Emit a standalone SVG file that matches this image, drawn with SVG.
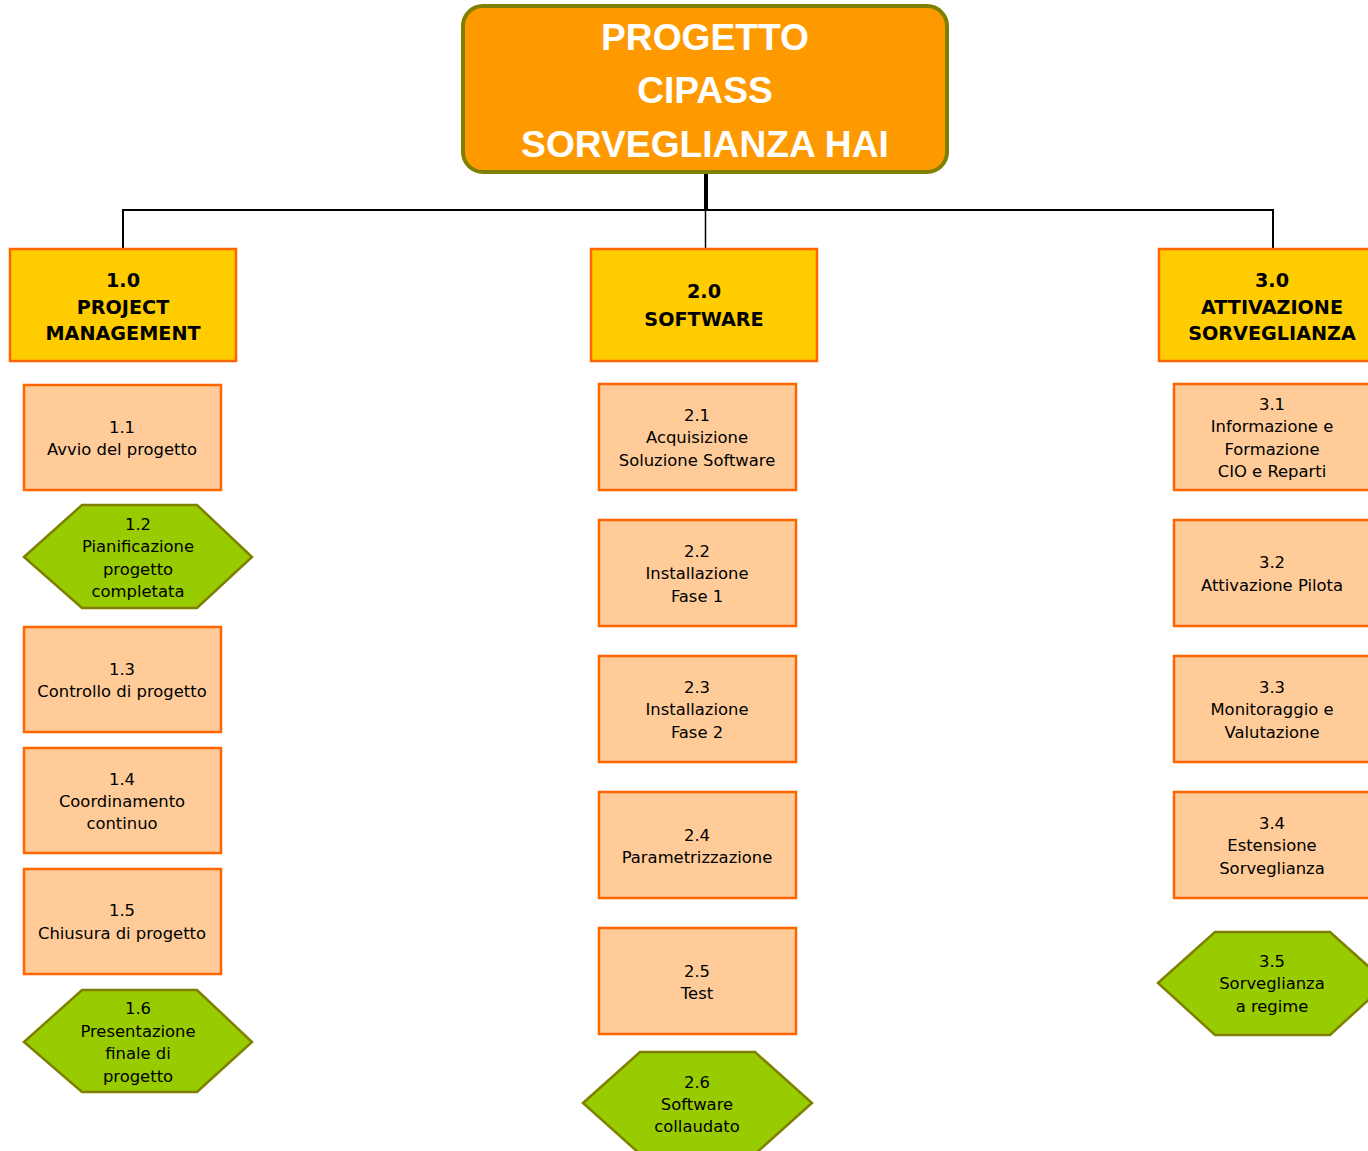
<svg xmlns="http://www.w3.org/2000/svg" width="1368" height="1151" viewBox="0 0 1368 1151">
<style>
.title{font-family:"Liberation Sans",Arial,sans-serif;font-weight:bold;font-size:37.2px;fill:#fff;text-anchor:middle}
.h{font-family:"DejaVu Sans",Verdana,sans-serif;font-weight:bold;font-size:19.2px;fill:#000;text-anchor:middle}
.t{font-family:"DejaVu Sans",Verdana,sans-serif;font-size:16.4px;fill:#000;text-anchor:middle}
.l1{fill:#FFCC00;stroke:#FF6600;stroke-width:2.5}
.l2{fill:#FFCC99;stroke:#FF6600;stroke-width:2.5}
.hex{fill:#99CC00;stroke:#808000;stroke-width:2.5}
.c{stroke:#000;fill:none}
</style>
<rect width="1368" height="1151" fill="#fff"/>
<g id="connectors">
<line class="c" x1="706" y1="172" x2="706" y2="210" stroke-width="4"/>
<line class="c" x1="122" y1="210" x2="1274" y2="210" stroke-width="2"/>
<line class="c" x1="123" y1="210" x2="123" y2="249" stroke-width="2"/>
<line class="c" x1="705.5" y1="210" x2="705.5" y2="249" stroke-width="1.5"/>
<line class="c" x1="1273" y1="210" x2="1273" y2="249" stroke-width="2"/>
</g>
<g id="root">
<rect x="463" y="6" width="484" height="166" rx="20" fill="#FF9900" stroke="#808000" stroke-width="4"/>
<text class="title" x="705" y="50">PROGETTO</text>
<text class="title" x="705" y="103">CIPASS</text>
<text class="title" x="705" y="157">SORVEGLIANZA HAI</text>
</g>
<g id="n1_0">
<rect class="l1" x="10" y="249" width="226" height="112"/>
<text class="h" x="123" y="287">1.0</text>
<text class="h" x="123" y="314">PROJECT</text>
<text class="h" x="123" y="340">MANAGEMENT</text>
</g>
<g id="n2_0">
<rect class="l1" x="591" y="249" width="226" height="112"/>
<text class="h" x="704" y="298">2.0</text>
<text class="h" x="704" y="326">SOFTWARE</text>
</g>
<g id="n3_0">
<rect class="l1" x="1159" y="249" width="226" height="112"/>
<text class="h" x="1272" y="287">3.0</text>
<text class="h" x="1272" y="314">ATTIVAZIONE</text>
<text class="h" x="1272" y="340">SORVEGLIANZA</text>
</g>
<g id="n1_1">
<rect class="l2" x="24" y="385" width="197" height="105"/>
<text class="t" x="122" y="433">1.1</text>
<text class="t" x="122" y="455">Avvio del progetto</text>
</g>
<g id="n1_2">
<polygon class="hex" points="24,557 82,505 197,505 252,557 197,608 82,608"/>
<text class="t" x="138" y="530">1.2</text>
<text class="t" x="138" y="552">Pianificazione</text>
<text class="t" x="138" y="575">progetto</text>
<text class="t" x="138" y="597">completata</text>
</g>
<g id="n1_3">
<rect class="l2" x="24" y="627" width="197" height="105"/>
<text class="t" x="122" y="675">1.3</text>
<text class="t" x="122" y="697">Controllo di progetto</text>
</g>
<g id="n1_4">
<rect class="l2" x="24" y="748" width="197" height="105"/>
<text class="t" x="122" y="785">1.4</text>
<text class="t" x="122" y="807">Coordinamento</text>
<text class="t" x="122" y="829">continuo</text>
</g>
<g id="n1_5">
<rect class="l2" x="24" y="869" width="197" height="105"/>
<text class="t" x="122" y="916">1.5</text>
<text class="t" x="122" y="939">Chiusura di progetto</text>
</g>
<g id="n1_6">
<polygon class="hex" points="24,1042 82,990 197,990 252,1042 197,1092 82,1092"/>
<text class="t" x="138" y="1014">1.6</text>
<text class="t" x="138" y="1037">Presentazione</text>
<text class="t" x="138" y="1059">finale di</text>
<text class="t" x="138" y="1082">progetto</text>
</g>
<g id="n2_1">
<rect class="l2" x="599" y="384" width="197" height="106"/>
<text class="t" x="697" y="421">2.1</text>
<text class="t" x="697" y="443">Acquisizione</text>
<text class="t" x="697" y="466">Soluzione Software</text>
</g>
<g id="n2_2">
<rect class="l2" x="599" y="520" width="197" height="106"/>
<text class="t" x="697" y="557">2.2</text>
<text class="t" x="697" y="579">Installazione</text>
<text class="t" x="697" y="602">Fase 1</text>
</g>
<g id="n2_3">
<rect class="l2" x="599" y="656" width="197" height="106"/>
<text class="t" x="697" y="693">2.3</text>
<text class="t" x="697" y="715">Installazione</text>
<text class="t" x="697" y="738">Fase 2</text>
</g>
<g id="n2_4">
<rect class="l2" x="599" y="792" width="197" height="106"/>
<text class="t" x="697" y="841">2.4</text>
<text class="t" x="697" y="863">Parametrizzazione</text>
</g>
<g id="n2_5">
<rect class="l2" x="599" y="928" width="197" height="106"/>
<text class="t" x="697" y="977">2.5</text>
<text class="t" x="697" y="999">Test</text>
</g>
<g id="n2_6">
<polygon class="hex" points="583,1103 640,1052 755,1052 812,1103 755,1154 640,1154"/>
<text class="t" x="697" y="1088">2.6</text>
<text class="t" x="697" y="1110">Software</text>
<text class="t" x="697" y="1132">collaudato</text>
</g>
<g id="n3_1">
<rect class="l2" x="1174" y="384" width="197" height="106"/>
<text class="t" x="1272" y="410">3.1</text>
<text class="t" x="1272" y="432">Informazione e</text>
<text class="t" x="1272" y="455">Formazione</text>
<text class="t" x="1272" y="477">CIO e Reparti</text>
</g>
<g id="n3_2">
<rect class="l2" x="1174" y="520" width="197" height="106"/>
<text class="t" x="1272" y="568">3.2</text>
<text class="t" x="1272" y="591">Attivazione Pilota</text>
</g>
<g id="n3_3">
<rect class="l2" x="1174" y="656" width="197" height="106"/>
<text class="t" x="1272" y="693">3.3</text>
<text class="t" x="1272" y="715">Monitoraggio e</text>
<text class="t" x="1272" y="738">Valutazione</text>
</g>
<g id="n3_4">
<rect class="l2" x="1174" y="792" width="197" height="106"/>
<text class="t" x="1272" y="829">3.4</text>
<text class="t" x="1272" y="851">Estensione</text>
<text class="t" x="1272" y="874">Sorveglianza</text>
</g>
<g id="n3_5">
<polygon class="hex" points="1158,983 1215,932 1330,932 1387,983 1330,1035 1215,1035"/>
<text class="t" x="1272" y="967">3.5</text>
<text class="t" x="1272" y="989">Sorveglianza</text>
<text class="t" x="1272" y="1012">a regime</text>
</g>
</svg>
